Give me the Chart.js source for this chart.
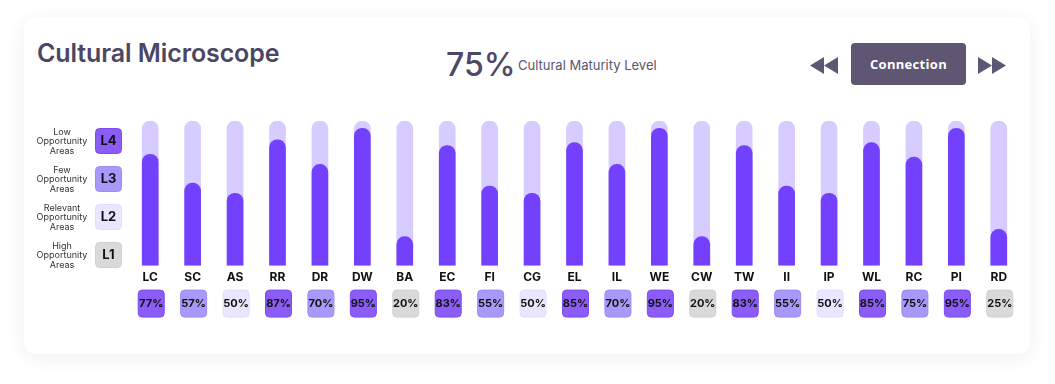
<!DOCTYPE html>
<html>
<head>
<meta charset="utf-8">
<title>Cultural Microscope</title>
<script src="https://cdn.jsdelivr.net/npm/chart.js@4.4.0/dist/chart.umd.min.js"></script>
<style>
  html, body { margin: 0; padding: 0; background: #fff; }
  body { width: 1055px; height: 384px; position: relative; overflow: hidden; font-family: Inter, sans-serif; }
  .card {
    position: absolute; left: 24px; top: 17px; width: 1006px; height: 337px;
    background: #fff; border-radius: 12px;
    box-shadow: 0 4px 18px rgba(40, 30, 70, 0.07);
  }
  .title { position: absolute; left: 37px; top: 38px; font-size: 25px; font-weight: 600; color: #4b4663; letter-spacing: -0.1px; }
  .score { position: absolute; left: 446px; top: 45px; font-size: 32px; font-weight: 500; color: #4d4866; }
  .score-label { position: absolute; left: 518px; top: 57px; font-size: 13px; color: #5a5670; }
  .btn {
    position: absolute; left: 851px; top: 43px; width: 115px; height: 42px;
    background: #5e5672; border-radius: 4px; color: #fff;
    font-family: "Open Sans", sans-serif; font-weight: 700; font-size: 13px;
    line-height: 42px; text-align: center; letter-spacing: 0.3px;
  }
  .arrow { position: absolute; top: 57px; }
  canvas { position: absolute; left: 0; top: 0; }
</style>
</head>
<body>
<div class="card"></div>
<div class="title">Cultural Microscope</div>
<div class="score">75%</div>
<div class="score-label">Cultural Maturity Level</div>
<svg class="arrow" style="left:810px" width="29" height="17"><polygon points="0,8.5 14,0 14,17" fill="#5e5672"/><polygon points="14,8.5 28,0 28,17" fill="#5e5672"/></svg>
<div class="btn">Connection</div>
<svg class="arrow" style="left:978px" width="29" height="17"><polygon points="0,0 14,8.5 0,17" fill="#5e5672"/><polygon points="14,0 28,8.5 14,17" fill="#5e5672"/></svg>
<canvas id="microscope" width="1055" height="384"></canvas>
<script>
  var categories = ["LC", "SC", "AS", "RR", "DR", "DW", "BA", "EC", "FI", "CG", "EL", "IL", "WE", "CW", "TW", "II", "IP", "WL", "RC", "PI", "RD"];
  var maturity = [77, 57, 50, 87, 70, 95, 20, 83, 55, 50, 85, 70, 95, 20, 83, 55, 50, 85, 75, 95, 25];
  var fullTrack = [100, 100, 100, 100, 100, 100, 100, 100, 100, 100, 100, 100, 100, 100, 100, 100, 100, 100, 100, 100, 100];
  var levels = [4, 3, 2, 4, 3, 4, 1, 4, 3, 2, 4, 3, 4, 1, 4, 3, 2, 4, 3, 4, 1];
  var levelNames = ["L4", "L3", "L2", "L1"];
  var levelDescriptions = [
    ["Low", "Opportunity", "Areas"],
    ["Few", "Opportunity", "Areas"],
    ["Relevant", "Opportunity", "Areas"],
    ["High", "Opportunity", "Areas"],
  ];

  var levelFill = { 4: "#8b5cf6", 3: "#a898fa", 2: "#ebe6ff", 1: "#d9d9d9" };
  var levelStroke = { 4: "#7b4cf0", 3: "#9c8af5", 2: "#e2dbfd", 1: "#d0d0d0" };

  // Percentage boxes under the axis and the level legend on the left
  var boxesPlugin = {
    id: "boxes",
    afterDraw: function (chart) {
      var ctx = chart.ctx;
      var xs = chart.scales.x;
      var area = chart.chartArea;
      ctx.save();
      ctx.textAlign = "center";
      ctx.textBaseline = "middle";
      ctx.lineWidth = 1;

      for (var i = 0; i < categories.length; i++) {
        var cx = xs.getPixelForValue(i) + 1;
        var lv = levels[i];
        ctx.beginPath();
        ctx.roundRect(cx - 13, area.bottom + 24.5, 26, 27, 4);
        ctx.fillStyle = levelFill[lv];
        ctx.fill();
        ctx.strokeStyle = levelStroke[lv];
        ctx.stroke();
        ctx.fillStyle = "#111";
        ctx.font = "bold 11px Inter";
        ctx.fillText(maturity[i] + "%", cx, area.bottom + 38.5);
      }

      for (var j = 0; j < levelNames.length; j++) {
        var top = 128 + j * 38;
        var lvl = 4 - j;
        ctx.beginPath();
        ctx.roundRect(95.5, top + 0.5, 26, 25, 4);
        ctx.fillStyle = levelFill[lvl];
        ctx.fill();
        ctx.strokeStyle = levelStroke[lvl];
        ctx.stroke();
        ctx.fillStyle = "#111";
        ctx.font = "bold 13px Inter";
        ctx.fillText(levelNames[j], 108.5, top + 13.5);

        ctx.fillStyle = "#333";
        ctx.font = "9px Inter";
        var lines = levelDescriptions[j];
        for (var k = 0; k < lines.length; k++) {
          ctx.fillText(lines[k], 62, top + 4 + k * 9.5);
        }
      }
      ctx.restore();
    },
  };

  var ctx1 = document.getElementById("microscope").getContext("2d");
  var myChart1 = new Chart(ctx1, {
    type: "bar",
    data: {
      labels: categories,
      datasets: [
        {
          label: "Maturity",
          data: maturity,
          backgroundColor: "#7340fd",
          barThickness: 16,
          borderRadius: { topLeft: 8, topRight: 8 },
          borderSkipped: "start",
        },
        {
          label: "Track",
          data: fullTrack,
          backgroundColor: "#d7ccff",
          barThickness: 16,
          borderRadius: { topLeft: 8, topRight: 8 },
          borderSkipped: "start",
        },
      ],
    },
    options: {
      responsive: false,
      animation: false,
      layout: { padding: { left: 129, right: 35, top: 121, bottom: 94 } },
      plugins: { legend: { display: false }, tooltip: { enabled: false } },
      scales: {
        x: {
          grid: { display: false, drawTicks: false },
          border: { display: false },
          ticks: { color: "#111", font: { family: "Inter", size: 12, weight: "bold" }, padding: 5 },
        },
        y: {
          display: false,
          min: 0,
          max: 100,
          stacked: false,
        },
      },
      datasets: { bar: { grouped: false } },
    },
    plugins: [boxesPlugin],
  });
</script>
</body>
</html>
